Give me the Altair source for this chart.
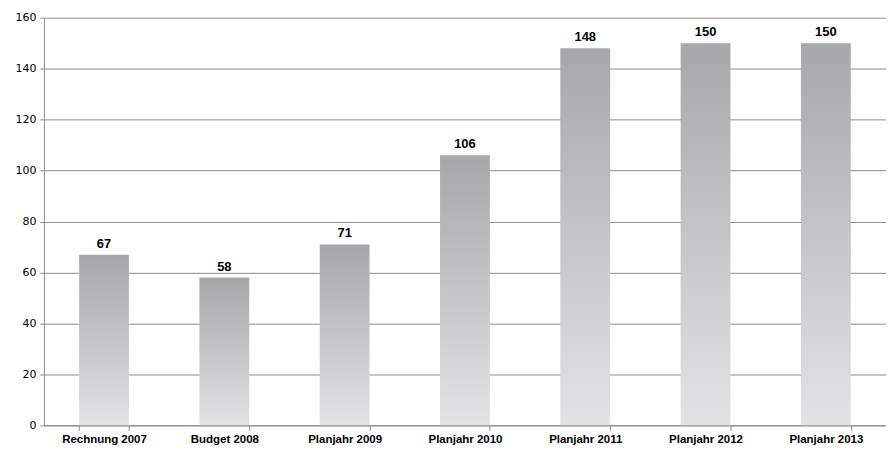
import altair as alt
import pandas as pd

categories = ["Rechnung 2007", "Budget 2008", "Planjahr 2009", "Planjahr 2010",
              "Planjahr 2011", "Planjahr 2012", "Planjahr 2013"]
values = [67, 58, 71, 106, 148, 150, 150]

df = pd.DataFrame({"cat": categories, "val": values})

x = alt.X("cat:N", sort=categories, title=None,
          scale=alt.Scale(paddingInner=0.586, paddingOuter=0.293),
          axis=alt.Axis(labelAngle=0, labelFont="Liberation Sans", labelFontWeight="bold",
                        labelFontSize=11.5, labelColor="#000000", tickBand="extent",
                        tickColor="#8c8c8c", domainColor="#8c8c8c", tickSize=5,
                        labelPadding=3, grid=False))
y = alt.Y("val:Q", title=None,
          scale=alt.Scale(domain=[0, 160], nice=False),
          axis=alt.Axis(values=list(range(0, 161, 20)), labelFont="DejaVu Sans",
                        labelFontSize=11, labelColor="#000000", gridColor="#8c8c8c",
                        domainColor="#8c8c8c", tickColor="#8c8c8c", tickSize=4,
                        labelPadding=4))

bars = alt.Chart(df).mark_bar(
    color=alt.Gradient(gradient="linear",
                       stops=[alt.GradientStop(color="#a6a7a9", offset=0),
                              alt.GradientStop(color="#e2e3e5", offset=1)],
                       x1=0, x2=0, y1=0, y2=1)
).encode(x=x, y=y)

labels = alt.Chart(df).mark_text(font="Liberation Sans", fontWeight="bold", fontSize=13,
                                 baseline="bottom", dy=-4, color="#000000").encode(
    x=alt.X("cat:N", sort=categories), y="val:Q", text="val:Q")

chart = alt.layer(bars, labels).properties(
    width=845, height=409,
    autosize=alt.AutoSizeParams(type="none"),
    padding={"left": 36, "top": 9, "right": 0, "bottom": 24}
).configure_view(stroke=None).configure_axis(domainWidth=1)

chart.save("out.html", embed_options={"renderer": "svg", "actions": False})
